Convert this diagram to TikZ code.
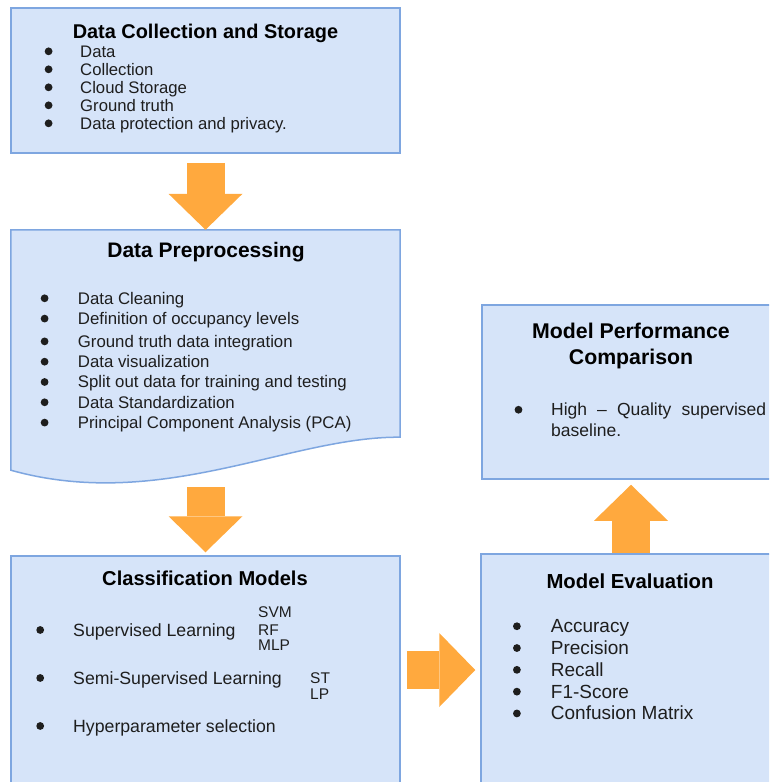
\documentclass[tikz,border=0pt]{standalone}
\usepackage{fontspec}
\setmainfont{Liberation Sans}
\usepackage{tikz}
\usetikzlibrary{arrows.meta,backgrounds}

\definecolor{boxfill}{HTML}{D6E4F9}
\definecolor{boxline}{HTML}{7EA6E0}
\definecolor{arrowfill}{HTML}{FFA93E}
\definecolor{textdark}{HTML}{1E1E1E}

% round bullet for the item lists
\newcommand{\itemdot}{\tikz[baseline=-0.34em]\fill[textdark] (0,0) circle (3.9pt);}

\begin{document}
\begin{tikzpicture}
	[x=1pt,y=-1pt,
	%Styles
	stage/.style={rectangle,draw=boxline,fill=boxfill,line width=1.5pt,inner sep=0pt},
	heading/.style={anchor=base,inner sep=0pt,text=black,font=\fontsize{#1}{#1}\selectfont\bfseries},
	items/.style={anchor=base west,inner sep=0pt,text=textdark},
	blockarrow/.style={draw=arrowfill,line width=38pt,-{Triangle[width=74pt,length=36pt,line width=0pt]}}
	]
	
	\useasboundingbox (0,0) rectangle (769,782);
	\clip (0,0) rectangle (769,782);
	
	%The stages
	\node[stage,minimum width=389pt,minimum height=145pt] (collect) at (205.5,80.5) {};
	\node[rectangle,minimum width=389pt,minimum height=254pt,inner sep=0pt] (prep) at (205.5,357) {};
	\node[stage,minimum width=389pt,minimum height=228pt] (cls) at (205.5,670) {};
	\node[stage,minimum width=300pt,minimum height=232pt] (eval) at (631,670) {};
	\node[stage,minimum width=298pt,minimum height=174pt] (perf) at (631,392) {};
	
	\begin{scope}[on background layer]
		% document shape with the wavy bottom
		\filldraw[draw=boxline,fill=boxfill,line width=1.5pt]
			(prep.north west) -- (prep.north east) -- ([yshift=47pt]prep.south east)
			.. controls ([xshift=-110pt,yshift=48pt]prep.south east) and ([xshift=150pt,yshift=-28pt]prep.south west)
			.. ([yshift=14pt]prep.south west) -- cycle;
		
		\draw[blockarrow] ([yshift=-9pt]collect.south) -- (prep.north);
		\draw[blockarrow] ([yshift=-3pt]prep.south) -- ([yshift=3pt]cls.north);
		\draw[blockarrow] ([xshift=6pt]cls.east) -- ([xshift=-5pt]eval.west);
		\draw[blockarrow] (eval.north) -- ([yshift=-5pt]perf.south);
	\end{scope}
	
	%Titles
	\node[heading=19.9] (collecttitle) at (205.5,38) {Data Collection and Storage};
	\node[heading=21] (preptitle) at (206,257) {Data Preprocessing};
	\node[heading=20.1] (clstitle) at (205,585) {Classification Models};
	\node[heading=20.3] (evaltitle) at (630,588) {Model Evaluation};
	\node[heading=21.3,font=\fontsize{21.3}{26.7}\selectfont\bfseries] (perftitle) at (631,338)
		{\begin{tabular}[t]{@{}c@{}}Model Performance\\Comparison\end{tabular}};
	
	%Item lists
	\node[items,font=\fontsize{16.7}{18}\selectfont] (collectlist) at (44.5,57)
		{\begin{tabular}[t]{@{}p{35.5pt}@{}l@{}}
			\itemdot & Data\\
			\itemdot & Collection\\
			\itemdot & Cloud Storage\\
			\itemdot & Ground truth\\
			\itemdot & Data protection and privacy.
		\end{tabular}};
	\node[items,font=\fontsize{16.8}{20.3}\selectfont] (preplist) at (40.5,304)
		{\begin{tabular}[t]{@{}p{37.2pt}@{}l@{}}
			\itemdot & Data Cleaning\\
			\itemdot & Definition of occupancy levels\\[2.5pt]
			\itemdot & Ground truth data integration\\
			\itemdot & Data visualization\\
			\itemdot & Split out data for training and testing\\
			\itemdot & Data Standardization\\
			\itemdot & Principal Component Analysis (PCA)
		\end{tabular}};
	\node[items,font=\fontsize{17.7}{48}\selectfont] (clslist) at (36.1,636)
		{\begin{tabular}[t]{@{}p{36.9pt}@{}l@{}}
			\itemdot & Supervised Learning\\
			\itemdot & Semi-Supervised Learning\\
			\itemdot & Hyperparameter selection
		\end{tabular}};
	\node[items,font=\fontsize{15.5}{16.5}\selectfont] (supalgos) at (258,617)
		{\begin{tabular}[t]{@{}l@{}}SVM\\[1.5pt]RF\\[-1.5pt]MLP\end{tabular}};
	\node[items,font=\fontsize{15.5}{16.5}\selectfont] (semialgos) at (310,683)
		{\begin{tabular}[t]{@{}l@{}}ST\\LP\end{tabular}};
	\node[items,font=\fontsize{19}{21.8}\selectfont] (evallist) at (512.8,632.7)
		{\begin{tabular}[t]{@{}p{37.9pt}@{}l@{}}
			\itemdot & Accuracy\\
			\itemdot & Precision\\
			\itemdot & Recall\\
			\itemdot & F1-Score\\
			\itemdot & Confusion Matrix
		\end{tabular}};
	\node[items,font=\fontsize{17.5}{21}\selectfont] (perflist) at (514.4,415.7)
		{\begin{tabular}[t]{@{}p{36.6pt}@{}l@{}}
			\itemdot & \makebox[215pt][s]{High -- Quality supervised}\\
			& baseline.
		\end{tabular}};
\end{tikzpicture}
\end{document}
